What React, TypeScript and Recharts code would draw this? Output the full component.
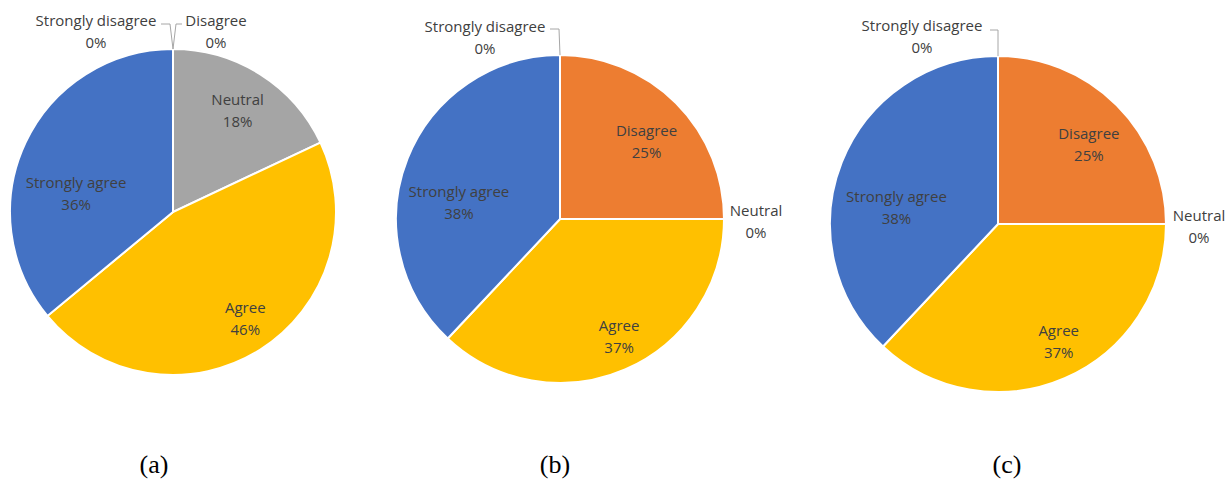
import { Pie, PieChart } from 'recharts';

const ANSWERS = ['Strongly disagree', 'Disagree', 'Neutral', 'Agree', 'Strongly agree'];
const VALUES_A = [0, 0, 18, 46, 36];
const VALUES_B = [0, 25, 0, 37, 38];
const VALUES_C = [0, 25, 0, 37, 38];
const CAPTIONS = ['(a)', '(b)', '(c)'];

/* Office palette, one colour per answer */
const COLORS = ['#5B9BD5', '#ED7D31', '#A5A5A5', '#FFC000', '#4472C4'];
const TEXT = '#404040';
const LEADER = '#A6A6A6';

type Placement =
  | { kind: 'in'; rf: number; da: number }
  | { kind: 'out'; dx: number; dy: number; leader?: [number, number][] };

/* where Excel put each label: inside ones by radius fraction + angle nudge,
   the 0% ones as an offset from the pie centre */
const PLACE_A: Placement[] = [
  { kind: 'out', dx: -77, dy: -181, leader: [[-12, -188], [-3, -188], [0, -163]] },
  { kind: 'out', dx: 43, dy: -181, leader: [[9, -188], [3, -188], [0, -163]] },
  { kind: 'in', rf: 0.74, da: 0 },
  { kind: 'in', rf: 0.785, da: 2 },
  { kind: 'in', rf: 0.606, da: 14 },
];
const PLACE_B: Placement[] = [
  { kind: 'out', dx: -75, dy: -182, leader: [[-10, -190], [-1, -190], [0, -164]] },
  { kind: 'in', rf: 0.71, da: -3 },
  { kind: 'out', dx: 196, dy: 2 },
  { kind: 'in', rf: 0.8, da: 3.4 },
  { kind: 'in', rf: 0.625, da: 12 },
];
const PLACE_C: Placement[] = [
  { kind: 'out', dx: -76, dy: -188, leader: [[-8, -194], [0, -194], [0, -168]] },
  { kind: 'in', rf: 0.72, da: -3.7 },
  { kind: 'out', dx: 201, dy: 2 },
  { kind: 'in', rf: 0.785, da: 4 },
  { kind: 'in', rf: 0.613, da: 11.9 },
];

const PIES = [
  { values: VALUES_A, place: PLACE_A, cx: 173, cy: 212, r: 163, capX: 154 },
  { values: VALUES_B, place: PLACE_B, cx: 560, cy: 219, r: 164, capX: 555 },
  { values: VALUES_C, place: PLACE_C, cx: 998, cy: 224, r: 168, capX: 1007 },
];

const RAD = Math.PI / 180;
const FONT = '"Open Sans", sans-serif';

function makeLabel(place: Placement[]) {
  return (props: any) => {
    const { cx, cy, midAngle, outerRadius, index, percent, payload } = props;
    const p = place[index];
    let x: number;
    let y: number;
    let leader = null;
    if (p.kind === 'in') {
      const a = (midAngle + p.da) * RAD;
      x = cx + outerRadius * p.rf * Math.cos(a);
      y = cy - outerRadius * p.rf * Math.sin(a);
    } else {
      x = cx + p.dx;
      y = cy + p.dy;
      if (p.leader) {
        leader = (
          <polyline
            points={p.leader.map(([lx, ly]) => `${cx + lx},${cy + ly}`).join(' ')}
            fill="none"
            stroke={LEADER}
            strokeWidth={1}
          />
        );
      }
    }
    return (
      <g key={`lbl-${index}`}>
        {leader}
        <text x={x} y={y - 11} textAnchor="middle" dominantBaseline="central" fill={TEXT} fontSize={15} fontFamily={FONT}>
          {payload.name}
        </text>
        <text x={x} y={y + 11} textAnchor="middle" dominantBaseline="central" fill={TEXT} fontSize={15} fontFamily={FONT}>
          {`${Math.round(percent * 100)}%`}
        </text>
      </g>
    );
  };
}

export default function App() {
  return (
    <div style={{ position: 'relative', width: 1228, height: 480, background: '#fff' }}>
      <style>{'body{margin:0}'}</style>
      <PieChart width={1228} height={480} margin={{ top: 0, right: 0, bottom: 0, left: 0 }}>
        {PIES.map((pie, i) => (
          <Pie
            key={i}
            data={ANSWERS.map((name, j) => ({ name, value: pie.values[j], fill: COLORS[j] }))}
            dataKey="value"
            nameKey="name"
            cx={pie.cx}
            cy={pie.cy}
            outerRadius={pie.r}
            startAngle={90}
            endAngle={-270}
            stroke="#fff"
            strokeWidth={2}
            label={makeLabel(pie.place)}
            labelLine={false}
            isAnimationActive={false}
          />
        ))}
      </PieChart>
      <svg width={1228} height={480} style={{ position: 'absolute', left: 0, top: 0, pointerEvents: 'none' }}>
        {PIES.map((pie, i) => (
          <text key={i} x={pie.capX} y={473} textAnchor="middle" fontSize={26} fontFamily='"Liberation Serif", serif' fill="#000">
            {CAPTIONS[i]}
          </text>
        ))}
      </svg>
    </div>
  );
}
